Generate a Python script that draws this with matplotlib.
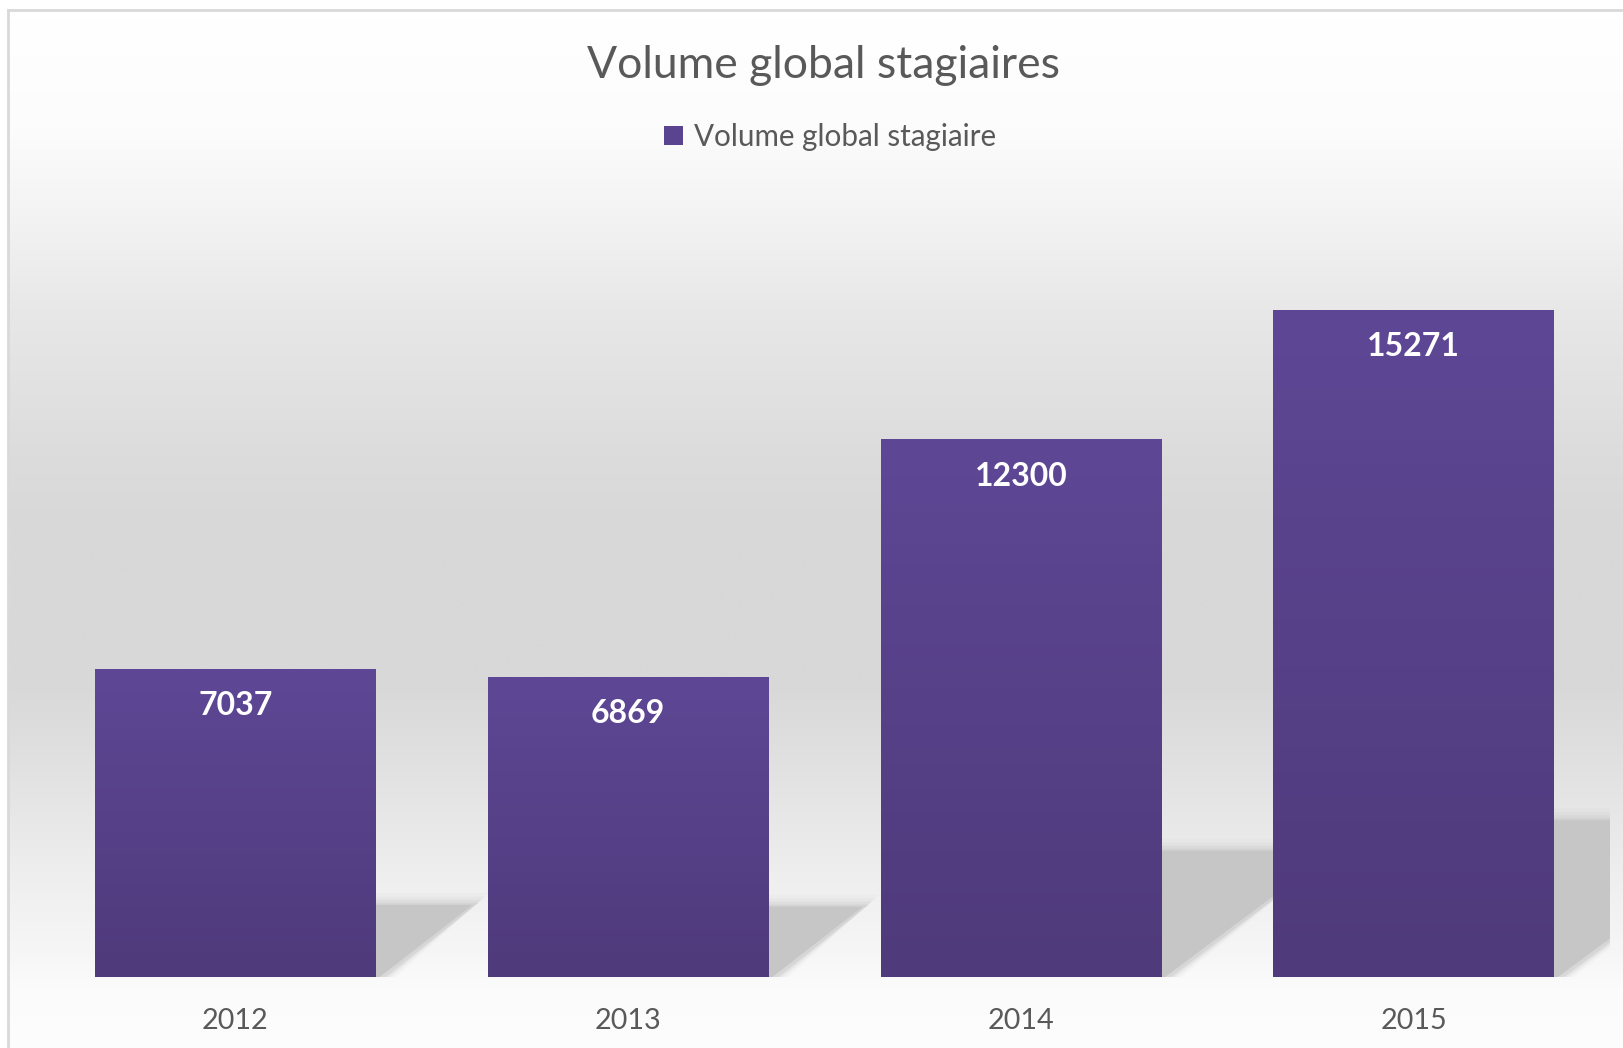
import numpy as np
import matplotlib
matplotlib.use("Agg")
import matplotlib.pyplot as plt
from matplotlib.patches import Polygon, Patch

# data
years = ["2012", "2013", "2014", "2015"]
volumes = [7037, 6869, 12300, 15271]
title = "Volume global stagiaires"
series_name = "Volume global stagiaire"

plt.rcParams['font.family'] = ['Lato', 'DejaVu Sans']

W, H = 1623, 1048
fig = plt.figure(figsize=(W / 100, H / 100), dpi=100)
fig.patch.set_facecolor("white")

# background of the chart area: vertical gray gradient + frame
bg = fig.add_axes([0, 0, 1, 1], zorder=-5)
bg.set_xlim(0, W)
bg.set_ylim(H, 0)
bg.axis("off")
ys = np.arange(H)
stops_y = [10, 120, 200, 300, 450, 520, 680, 770, 870, 950, 985, 1048]
stops_g = [255, 252, 244, 232, 220, 216, 216, 226, 238, 246, 251, 253]
prof = np.interp(ys, stops_y, stops_g) / 255.0
grad = np.repeat(prof[:, None], 2, axis=1)
bg.imshow(np.dstack([grad, grad, grad]), extent=[8, W, H, 10], aspect="auto",
          interpolation="bilinear", zorder=0)
bg.plot([8, W], [10, 10], color="#d9d9d9", lw=2, zorder=1)
bg.plot([8, 8], [10, H], color="#d9d9d9", lw=2, zorder=1)

# plot area
left_px, right_px, bot_px, top_px = 39, 1610, 977, 191
ax = fig.add_axes([left_px / W, 1 - bot_px / H, (right_px - left_px) / W, (bot_px - top_px) / H])
ax.patch.set_alpha(0)
ymax = 18000
ax.set_xlim(-0.5, 3.5)
ax.set_ylim(0, ymax)
for s in ax.spines.values():
    s.set_visible(False)
ax.set_yticks([])
ax.set_xticks(range(len(years)), years)
ax.tick_params(axis="x", length=0, pad=22, labelsize=20.7, labelcolor="#595959")

bw = 0.714
# pixel ratio to build the floor shadows in data units
px_x = (right_px - left_px) / 4.0
px_y = (bot_px - top_px) / ymax
for i, v in enumerate(volumes):
    r = i + bw / 2
    sh = 0.235 * v
    dx = 1.4 * sh * px_y / px_x
    off = 8 / px_x
    # soft edges
    for grow, a in [(12, 0.08), (8, 0.12), (5, 0.18), (2, 0.3)]:
        gx = grow / px_x
        gy = grow / px_y
        poly = Polygon([(r, 0), (r, sh + gy), (r + dx + gx, sh + gy),
                        (r + off + gx, 0)], closed=True, facecolor="#bdbdbd",
                       edgecolor="none", alpha=a, zorder=1)
        ax.add_patch(poly)
    poly = Polygon([(r, 0), (r, sh), (r + dx - 4 / px_x, sh), (r + off - 4 / px_x, 0)],
                   closed=True, facecolor="#c6c6c6", edgecolor="none", zorder=1.5)
    ax.add_patch(poly)

# bars with vertical gradient
top_c = np.array([0x5e, 0x47, 0x95]) / 255.0
bot_c = np.array([0x4f, 0x3a, 0x7b]) / 255.0
t = np.linspace(0, 1, 256)[:, None]
bar_grad = (top_c[None, :] * (1 - t) + bot_c[None, :] * t)[:, None, :]
bars = ax.bar(range(len(years)), volumes, width=bw, color="#56408a", zorder=2)
for b, v in zip(bars, volumes):
    x0 = b.get_x()
    ax.imshow(bar_grad, extent=[x0, x0 + bw, 0, v], aspect="auto",
              interpolation="bilinear", zorder=3)
    ax.annotate(str(v), (b.get_x() + bw / 2, v), xytext=(0, -26),
                textcoords="offset points", ha="center", va="center",
                color="white", fontsize=23, fontweight="bold", zorder=4)
ax.set_xlim(-0.5, 3.5)
ax.set_ylim(0, ymax)

fig.text(824 / W, 1 - 65 / H, title, ha="center", va="center",
         fontsize=32, color="#595959")
fig.legend(handles=[Patch(facecolor="#5a4490", label=series_name)],
           loc="center", bbox_to_anchor=(830 / W, 1 - 137 / H), frameon=False,
           fontsize=21.3, labelcolor="#595959", handlelength=0.65,
           handleheight=0.65, handletextpad=0.35)

fig.savefig("out.png", dpi=100)
